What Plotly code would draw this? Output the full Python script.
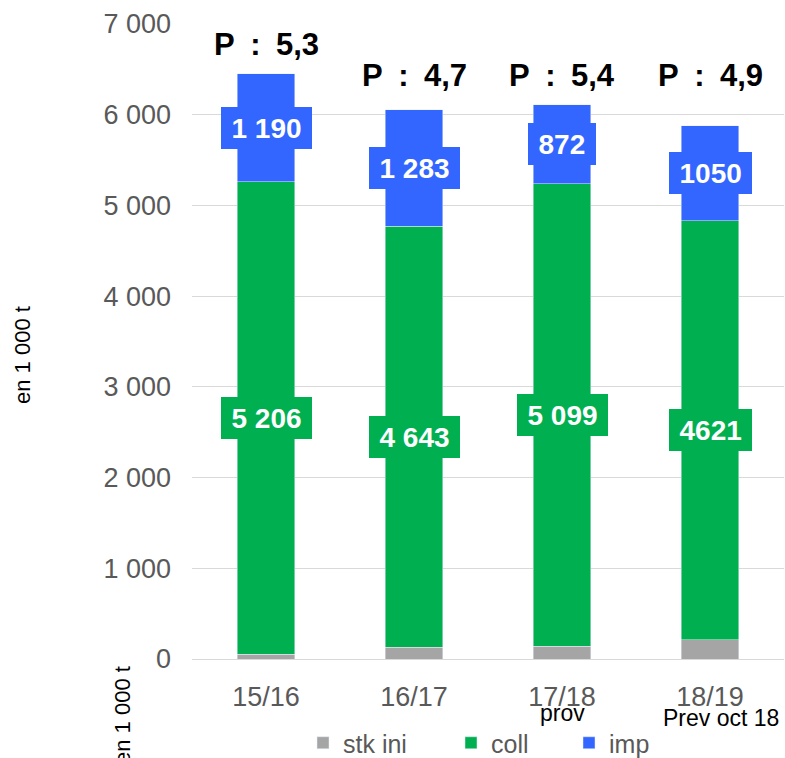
import plotly.graph_objects as go

categories = ["15/16", "16/17", "17/18", "18/19"]
sub_labels = ["", "", "prov", "Prev oct 18"]
stk_ini = [55, 130, 140, 210]
coll = [5206, 4643, 5099, 4621]
imp = [1190, 1283, 872, 1050]
coll_text = ["5 206", "4 643", "5 099", "4621"]
imp_text = ["1 190", "1 283", "872", "1050"]
p_labels = ["P : 5,3", "P : 4,7", "P : 5,4", "P : 4,9"]
y_tickvals = [0, 1000, 2000, 3000, 4000, 5000, 6000, 7000]
y_ticktext = ["0", "1 000", "2 000", "3 000", "4 000", "5 000", "6 000", "7 000"]

FONT = "Arial, Liberation Sans, sans-serif"
C_GRAY = "#A5A5A5"
C_GREEN = "#00B050"
C_BLUE = "#3366FF"
LABEL_FS = 28

L, R, T, B = 192, 1, 24, 99
W, H = 785, 758
pw, ph = W - L - R, H - T - B


def px_x(px):
    return (px - L) / pw


def px_y(py):
    return (H - B - py) / ph


fig = go.Figure()
legend_ids = ["legend", "legend2", "legend3"]
for name, vals, col, lg in [("stk ini", stk_ini, C_GRAY, "legend"),
                            ("coll", coll, C_GREEN, "legend2"),
                            ("imp", imp, C_BLUE, "legend3")]:
    fig.add_trace(go.Bar(name=name, x=categories, y=vals, marker_color=col, legend=lg))


def text_w(s, fs):
    w = 0
    for ch in s:
        w += 0.278 * fs if ch == " " else 0.556 * fs
    return w


annotations = []
for i, cat in enumerate(categories):
    base_c = stk_ini[i]
    base_i = stk_ini[i] + coll[i]
    for txt, yv, col in [
        (coll_text[i], base_c + coll[i] / 2, C_GREEN),
        (imp_text[i], base_i + imp[i] / 2, C_BLUE),
    ]:
        annotations.append(dict(
            x=cat, y=yv, xref="x", yref="y", text="<b>%s</b>" % txt,
            showarrow=False, bgcolor=col, borderpad=3, borderwidth=0,
            width=text_w(txt, LABEL_FS) + 15, height=36,
            font=dict(family=FONT, size=LABEL_FS, color="white"),
            xanchor="center", yanchor="middle",
        ))

p_shift = [29, 34, 29, 50]
for i, cat in enumerate(categories):
    total = stk_ini[i] + coll[i] + imp[i]
    annotations.append(dict(
        x=cat, y=total, xref="x", yref="y",
        text="<b>%s</b>" % p_labels[i].replace(" ", "\u2002"),
        showarrow=False, yanchor="middle", xanchor="center", yshift=p_shift[i],
        font=dict(family=FONT, size=31, color="black"),
    ))

sub_shift = [(0, -54), (0, -54), (0, -54), (11, -59)]
for i, cat in enumerate(categories):
    if sub_labels[i]:
        annotations.append(dict(
            x=cat, y=0, xref="x", yref="y", text=sub_labels[i], showarrow=False,
            xanchor="center", yanchor="middle",
            xshift=sub_shift[i][0], yshift=sub_shift[i][1],
            font=dict(family=FONT, size=23, color="black"),
        ))

for (tx, ty) in [(22, 355), (122, 715)]:
    annotations.append(dict(
        x=px_x(tx), y=px_y(ty), xref="paper", yref="paper", text="en 1 000 t",
        showarrow=False, textangle=-90, xanchor="center", yanchor="middle",
        font=dict(family=FONT, size=22, color="black"),
    ))

legend_style = dict(orientation="h", xanchor="left", yanchor="middle", y=px_y(743),
                    font=dict(family=FONT, size=25, color="#595959"),
                    bgcolor="rgba(0,0,0,0)")
sym_centers = [328, 476, 594]
layout_legends = {}
for lg, cx in zip(legend_ids, sym_centers):
    layout_legends[lg] = dict(legend_style, x=px_x(cx - 25))

fig.update_layout(
    barmode="stack",
    bargap=0.61,
    width=W, height=H,
    margin=dict(l=L, r=R, t=T, b=B, pad=0, autoexpand=False),
    plot_bgcolor="white", paper_bgcolor="white",
    font=dict(family=FONT, color="#595959"),
    showlegend=True,
    annotations=annotations,
    **layout_legends,
)
fig.update_xaxes(
    tickfont=dict(family=FONT, size=27, color="#595959"),
    showline=True, linecolor="#D9D9D9", linewidth=1,
    showgrid=False, ticks="", ticklabelstandoff=14, automargin=False,
)
fig.update_yaxes(
    range=[0, 7000], tickvals=y_tickvals, ticktext=y_ticktext,
    tickfont=dict(family=FONT, size=27, color="#595959"),
    showgrid=True, gridcolor="#D9D9D9", gridwidth=1,
    zeroline=False, showline=False, ticks="", ticklabelstandoff=20, automargin=False,
)

fig.write_html("out.html", config={"displayModeBar": False},
               post_script="document.body.style.margin='0';")
